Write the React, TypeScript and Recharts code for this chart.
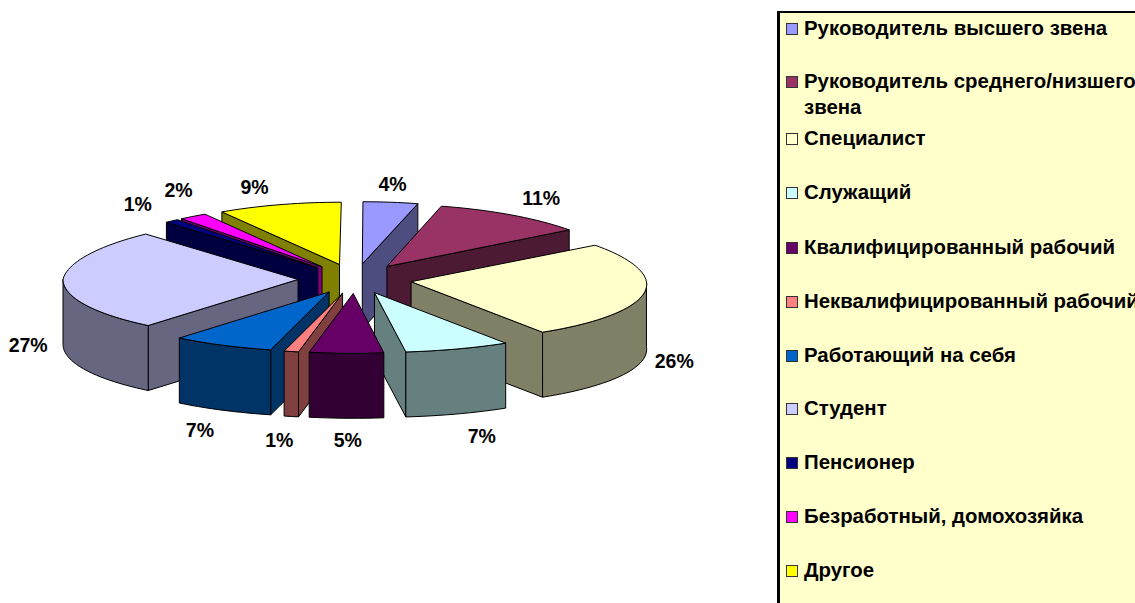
import { PieChart, Pie, Legend } from 'recharts'

const categories = [
  'Руководитель высшего звена',
  'Руководитель среднего/низшего звена',
  'Специалист',
  'Служащий',
  'Квалифицированный рабочий',
  'Неквалифицированный рабочий',
  'Работающий на себя',
  'Студент',
  'Пенсионер',
  'Безработный, домохозяйка',
  'Другое',
]
const shares = [4, 11, 26, 7, 5, 1, 7, 27, 1, 2, 9]
const topColors = ['#9999FF', '#993366', '#FFFFCC', '#CCFFFF', '#660066', '#FF8080', '#0066CC', '#CCCCFF', '#000080', '#FF00FF', '#FFFF00']
const wallColors = ['#4D4D80', '#4D1A33', '#808066', '#668080', '#330033', '#804040', '#003366', '#666680', '#000040', '#800080', '#808000']

// back-to-front order, slices overlap each other so the data order won't do
const paintOrder = [0, 10, 9, 8, 1, 7, 2, 6, 3, 5, 4]
// excel moved a few labels by hand
const labelNudges = [[-3, 0], [4, -2], [1, -1], [17, 2], [3, 0], [-5, 2], [-8, 1], [-3, -2], [-3, -3], [14, -11], [-10, 0]]
const legendRowHeights = [53, 57, 54, 55, 54, 54, 53, 54, 54, 54, 54]

const tableData = categories.map((name, i) => ({ name, value: shares[i], fill: topColors[i], wall: wallColors[i], index: i }))

const TILT = 0.265
const DEPTH = 65
const EXPLODE = 57
const toRad = (deg: number) => (deg * Math.PI) / 180

function Slice3D(props: any) {
  const { cx, cy, outerRadius, startAngle, endAngle, payload } = props
  // recharts angles are math degrees, clock angles are easier here
  const a = 90 - startAngle
  const b = 90 - endAngle
  const mid = (a + b) / 2
  const ry = outerRadius * TILT
  const ax = cx + Math.sin(toRad(mid)) * EXPLODE
  const ay = cy - Math.cos(toRad(mid)) * EXPLODE * TILT
  // excel's perspective: far side narrower, near side pulled to the right
  const project = (x: number, y: number) => {
    const t = (y - cy) / ry
    if (t < 0) return { x: cx - t * 1 + (x - cx) * (1 + 0.05 * t), y }
    return {
      x: x + (x > cx ? 0.035 * (x - cx) * t : 0),
      y: cy + (y - cy) * 0.96,
    }
  }
  const rim = (deg: number) => project(ax + Math.sin(toRad(deg)) * outerRadius, ay - Math.cos(toRad(deg)) * ry)
  const arcPoints = (from: number, to: number) => {
    const pts = []
    const steps = Math.max(1, Math.ceil((to - from) / 2))
    for (let i = 0; i <= steps; i++) pts.push(rim(from + ((to - from) * i) / steps))
    return pts
  }
  const apex = project(ax, ay)
  const pa = rim(a)
  const pb = rim(b)
  const arcFrom = Math.max(a, 90)
  const arcTo = Math.min(b, 270)
  const wallProps = { fill: payload.wall, stroke: '#000', strokeWidth: 1, strokeLinejoin: 'round' as const }
  const radial = (p: { x: number; y: number }) =>
    `M${apex.x},${apex.y} L${p.x},${p.y} L${p.x},${p.y + DEPTH} L${apex.x},${apex.y + DEPTH} Z`
  const line = (pts: { x: number; y: number }[]) => pts.map((p) => `${p.x},${p.y}`).join(' L')

  return (
    <g>
      {Math.sin(toRad(a)) < 0 && <path d={radial(pa)} {...wallProps} />}
      {Math.sin(toRad(b)) > 0 && <path d={radial(pb)} {...wallProps} />}
      {arcFrom < arcTo && (
        <path
          d={`M${line(arcPoints(arcFrom, arcTo))} L${line(arcPoints(arcFrom, arcTo).reverse().map((p) => ({ x: p.x, y: p.y + DEPTH })))} Z`}
          {...wallProps}
        />
      )}
      <path
        d={`M${apex.x},${apex.y} L${line(arcPoints(a, b))} Z`}
        fill={payload.fill}
        stroke="#000"
        strokeWidth={1}
        strokeLinejoin="round"
      />
    </g>
  )
}

function PercentLabel(props: any) {
  const { cx, cy, midAngle, outerRadius, index } = props
  const clock = 90 - midAngle
  const s = Math.sin(toRad(clock))
  const c = Math.cos(toRad(clock))
  const r = outerRadius + EXPLODE + 32
  const [dx, dy] = labelNudges[index]
  const x = cx + s * r + dx
  const y = cy - c * (r * TILT + 10) + (c < 0 ? DEPTH : 0) + dy
  return (
    <text x={x} y={y} textAnchor="middle" dominantBaseline="central" fontFamily="Liberation Sans" fontWeight="bold" fontSize={19.5} fill="#000">
      {shares[index]}%
    </text>
  )
}

function LegendBox() {
  return (
    <div style={{ background: '#FFFFCC', borderLeft: '3px solid #000', borderTop: '2px solid #000', height: 600, width: 370, boxSizing: 'border-box', paddingTop: 2, fontFamily: 'Liberation Sans', fontWeight: 'bold', fontSize: 20.4, lineHeight: '26px', color: '#000', textAlign: 'left' }}>
      {categories.map((name, i) => (
        <div key={name} style={{ display: 'flex', height: legendRowHeights[i], alignItems: 'flex-start' }}>
          <span style={{ width: 10, height: 10, marginLeft: 6, marginTop: 8, marginRight: 6, flex: 'none', background: topColors[i], border: '1px solid #333' }} />
          <span style={{ width: 340 }}>{name}</span>
        </div>
      ))}
    </div>
  )
}

export default function App() {
  return (
    <div style={{ position: 'absolute', left: 0, top: 0, width: 1135, height: 603, overflow: 'hidden', background: '#fff' }}>
      <PieChart width={1135} height={603} margin={{ top: 0, right: 0, bottom: 0, left: 0 }}>
        {paintOrder.map((sliceIndex) => (
          <Pie
            key={sliceIndex}
            data={tableData}
            dataKey="value"
            cx={355}
            cy={279}
            outerRadius={235}
            startAngle={90}
            endAngle={-270}
            isAnimationActive={false}
            legendType="none"
            shape={(p: any) => (p.payload.index === sliceIndex ? <Slice3D {...p} /> : <g />)}
          />
        ))}
        <Pie
          data={tableData}
          dataKey="value"
          cx={355}
          cy={279}
          outerRadius={235}
          startAngle={90}
          endAngle={-270}
          isAnimationActive={false}
          legendType="none"
          shape={() => <g />}
          labelLine={false}
          label={(p: any) => <PercentLabel {...p} />}
        />
        <Legend content={<LegendBox />} wrapperStyle={{ left: 777, top: 11, width: 370, height: 600 }} />
      </PieChart>
    </div>
  )
}
